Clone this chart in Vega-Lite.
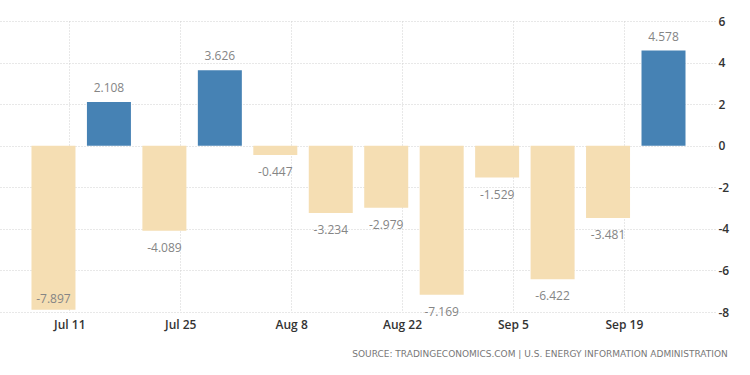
{
  "$schema": "https://vega.github.io/schema/vega-lite/v6.json",
  "width": 715,
  "height": 291,
  "autosize": {"type": "none"},
  "padding": {"left": 0, "top": 21, "right": 35, "bottom": 63},
  "background": "white",
  "config": {"view": {"stroke": null}},
  "title": {
    "text": "SOURCE: TRADINGECONOMICS.COM  |  U.S. ENERGY INFORMATION ADMINISTRATION",
    "orient": "bottom",
    "anchor": "end",
    "frame": "bounds",
    "font": "DejaVu Sans",
    "fontSize": 9,
    "fontWeight": "normal",
    "color": "#777777",
    "offset": 20,
    "dx": -1
  },
  "data": {
    "values": [
      {"date": "2021-07-09T00:00:00Z", "value": -7.897},
      {"date": "2021-07-16T00:00:00Z", "value": 2.108},
      {"date": "2021-07-23T00:00:00Z", "value": -4.089},
      {"date": "2021-07-30T00:00:00Z", "value": 3.626},
      {"date": "2021-08-06T00:00:00Z", "value": -0.447},
      {"date": "2021-08-13T00:00:00Z", "value": -3.234},
      {"date": "2021-08-20T00:00:00Z", "value": -2.979},
      {"date": "2021-08-27T00:00:00Z", "value": -7.169},
      {"date": "2021-09-03T00:00:00Z", "value": -1.529},
      {"date": "2021-09-10T00:00:00Z", "value": -6.422},
      {"date": "2021-09-17T00:00:00Z", "value": -3.481},
      {"date": "2021-09-24T00:00:00Z", "value": 4.578}
    ]
  },
  "transform": [
    {"calculate": "datum.value >= 0 ? datum.value + 0.67 : (datum.value - 0.83 < -8.1 ? datum.value + 0.5 : datum.value - 0.83)", "as": "labelY"},
    {"calculate": "datum.value >= 0 ? 'pos' : 'neg'", "as": "sign"},
    {"calculate": "'' + datum.value", "as": "label"}
  ],
  "encoding": {
    "x": {
      "field": "date",
      "type": "temporal",
      "scale": {"type": "utc", "padding": 0, "domain": [{"year": 2021, "month": 7, "date": 2, "hours": 6, "utc": true}, {"year": 2021, "month": 9, "date": 30, "hours": 12, "utc": true}]},
      "axis": {
        "values": [
          {"year": 2021, "month": 7, "date": 11, "utc": true},
          {"year": 2021, "month": 7, "date": 25, "utc": true},
          {"year": 2021, "month": 8, "date": 8, "utc": true},
          {"year": 2021, "month": 8, "date": 22, "utc": true},
          {"year": 2021, "month": 9, "date": 5, "utc": true},
          {"year": 2021, "month": 9, "date": 19, "utc": true}
        ],
        "labelExpr": "utcFormat(datum.value, '%b %-d')",
        "title": null,
        "domain": false,
        "ticks": false,
        "labelPadding": 7,
        "labelFont": "Open Sans",
        "labelFontSize": 12,
        "labelFontWeight": 600,
        "labelColor": "#333333",
        "grid": true,
        "gridColor": "#d0d0d0",
        "gridDash": [1, 2],
        "labelFlush": false
      }
    }
  },
  "layer": [
    {
      "mark": {"type": "bar", "size": 44},
      "encoding": {
        "y": {
          "field": "value",
          "type": "quantitative",
          "scale": {"domain": [-8, 6], "nice": false},
          "axis": {
            "orient": "right",
            "values": [-8, -6, -4, -2, 0, 2, 4, 6],
            "labelExpr": "'' + datum.value",
            "title": null,
            "domain": false,
            "ticks": false,
            "labelPadding": 3,
            "labelFont": "Open Sans",
            "labelFontSize": 12,
            "labelFontWeight": 600,
            "labelColor": "#333333",
            "gridColor": "#d0d0d0",
            "gridDash": [1, 2]
          }
        },
        "y2": {"datum": 0},
        "color": {
          "field": "sign",
          "type": "nominal",
          "scale": {"domain": ["pos", "neg"], "range": ["#4682b4", "#f5deb3"]},
          "legend": null
        }
      }
    },
    {
      "mark": {"type": "text", "font": "Open Sans", "fontSize": 12, "color": "#858585", "baseline": "middle"},
      "encoding": {
        "y": {"field": "labelY", "type": "quantitative"},
        "text": {"field": "label", "type": "nominal"}
      }
    }
  ]
}
